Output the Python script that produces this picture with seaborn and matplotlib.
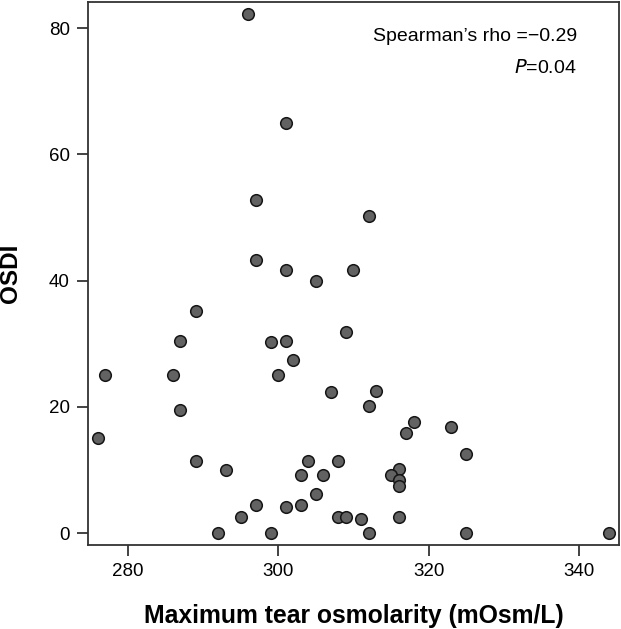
import pandas as pd
import seaborn as sns
import matplotlib.pyplot as plt

# values
osmolarity = [296, 301, 297, 297, 301, 310, 305, 312, 289, 287,
              299, 301, 309, 302, 277, 286, 300, 307, 313, 312,
              287, 318, 317, 323, 276, 325, 289, 293, 304, 308,
              303, 306, 316, 315, 316, 316, 305, 297, 301, 303,
              295, 308, 309, 311, 316, 292, 299, 312, 325, 344]
osdi = [82.3, 65.0, 52.7, 43.2, 41.7, 41.7, 40.0, 50.2, 35.1, 30.5,
        30.2, 30.5, 31.8, 27.4, 25.0, 25.0, 25.0, 22.3, 22.5, 20.2,
        19.5, 17.6, 15.9, 16.8, 15.0, 12.5, 11.4, 10.0, 11.4, 11.4,
        9.2, 9.2, 10.1, 9.2, 8.4, 7.5, 6.2, 4.5, 4.2, 4.4,
        2.5, 2.5, 2.5, 2.3, 2.5, 0.0, 0.0, 0.0, 0.0, 0.0]
x_ticks = [280, 300, 320, 340]
y_ticks = [0, 20, 40, 60, 80]

df = pd.DataFrame({'osm': osmolarity, 'osdi': osdi})

sns.set_style('white')
plt.rcParams['font.family'] = ['Liberation Sans', 'DejaVu Sans']
plt.rcParams['text.color'] = 'black'
plt.rcParams['axes.labelcolor'] = 'black'

fig = plt.figure(figsize=(6.21, 6.29), dpi=100)
ax = fig.add_axes([0.1417, 0.1335, 0.855, 0.8630])

sns.scatterplot(data=df, x='osm', y='osdi', ax=ax, s=70, color='#626262',
                edgecolor='#151515', linewidth=1.1, zorder=3, clip_on=False)

ax.set_xlim(274.7, 345.3)
ax.set_ylim(-1.9, 84.1)
ax.set_xticks(x_ticks)
ax.set_yticks(y_ticks)
ax.tick_params(axis='both', direction='out', length=8, width=1.2,
               color='#222222', labelsize=13.5, pad=5, bottom=True, left=True,
               labelcolor='black')
ax.tick_params(axis='x', pad=5)
for sp in ax.spines.values():
    sp.set_color('#333333')
    sp.set_linewidth(1.3)

ax.set_xlabel('')
ax.set_ylabel('OSDI', fontsize=17.5, fontweight='bold')
ax.yaxis.set_label_coords(-0.125, 0.5)
fig.text(0.5696, 6 / 629, 'Maximum tear osmolarity (mOsm/L)', fontsize=17.8,
         fontweight='bold', ha='center', va='baseline')

ax.text(0.921, 0.928, 'Spearman\u2019s rho =\u22120.29', transform=ax.transAxes,
        ha='right', va='baseline', fontsize=14)
ax.text(0.921, 0.869, '$\\it{P}$=0.04', transform=ax.transAxes,
        ha='right', va='baseline', fontsize=14)

fig.savefig('out.png', dpi=100)
